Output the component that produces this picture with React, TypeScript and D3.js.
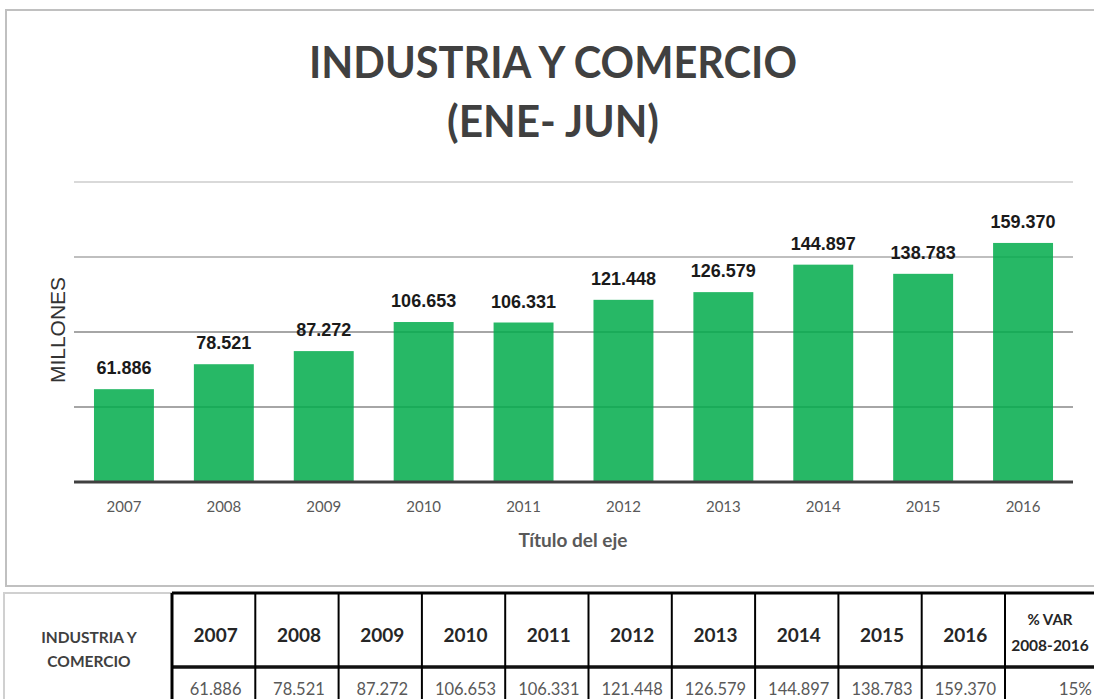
import React from 'react';
import * as d3 from 'd3';

const years = ['2007', '2008', '2009', '2010', '2011', '2012', '2013', '2014', '2015', '2016'];
const values = [61.886, 78.521, 87.272, 106.653, 106.331, 121.448, 126.579, 144.897, 138.783, 159.37];
const yTicks = [0, 50, 100, 150, 200];
const titleLines = ['INDUSTRIA Y COMERCIO', '(ENE- JUN)'];
const xAxisTitle = 'Título del eje';
const yAxisTitle = 'MILLONES';
const rowLabel = ['INDUSTRIA Y', 'COMERCIO'];
const varHeader = ['% VAR', '2008-2016'];
const varValue = '15%';

const W = 1094;
const H = 699;
const CAL = 'Lato, "Open Sans", sans-serif';
const ARIAL = '"Liberation Sans", Arial, sans-serif';

export default function App() {
  const x = d3.scaleBand<string>().domain(years).range([74, 1073]).paddingInner(0.4).paddingOuter(0.2);
  const y = d3.scaleLinear().domain([0, 200]).range([482, 182]);
  const fmt = d3.format('.3f');

  const tx = d3.scaleBand<string>().domain(years).range([172, 1005]);
  const tableTop = 593;
  const headerBottom = 667;
  const tableBottom = 710;

  const gridColor = (t: number) => (t === 200 ? '#D9D9D9' : t === 150 ? '#BFBFBF' : '#A6A6A6');

  return (
    <svg width={W} height={H} style={{ position: 'absolute', left: 0, top: 0, display: 'block', background: '#fff' }}>
      {/* chart frame */}
      <rect x={6} y={10} width={W} height={576} fill="#fff" stroke="#C0C0C0" strokeWidth={2} />

      {/* title */}
      <text x={553} y={78} textAnchor="middle" fontFamily={CAL} fontWeight={700} fontSize={43} fill="#404040"
        textLength={488} lengthAdjust="spacingAndGlyphs">{titleLines[0]}</text>
      <text x={553} y={137} textAnchor="middle" fontFamily={CAL} fontWeight={700} fontSize={43} fill="#404040"
        textLength={212} lengthAdjust="spacingAndGlyphs">{titleLines[1]}</text>

      {/* gridlines */}
      {yTicks.filter(t => t > 0).map(t => (
        <line key={t} x1={74} x2={1073} y1={y(t)} y2={y(t)} stroke={gridColor(t)} strokeWidth={2} />
      ))}

      {/* bars */}
      {years.map((yr, i) => (
        <rect key={yr} x={x(yr)} y={y(values[i])} width={x.bandwidth()} height={y(0) - y(values[i])}
          fill="rgb(1,171,75)" fillOpacity={0.85} />
      ))}

      {/* axis */}
      <line x1={74} x2={1073} y1={y(0)} y2={y(0)} stroke="#404040" strokeWidth={3} />

      {/* value labels */}
      {years.map((yr, i) => (
        <text key={yr} x={(x(yr) as number) + x.bandwidth() / 2} y={y(values[i]) - 15} textAnchor="middle"
          fontFamily={ARIAL} fontWeight={700} fontSize={18} fill="#1a1a1a">{fmt(values[i])}</text>
      ))}

      {/* x tick labels */}
      {years.map(yr => (
        <text key={yr} x={(x(yr) as number) + x.bandwidth() / 2} y={512} textAnchor="middle"
          fontFamily={CAL} fontSize={15} fill="#595959">{yr}</text>
      ))}

      {/* axis titles */}
      <text x={573} y={547} textAnchor="middle" fontFamily={CAL} fontWeight={700} fontSize={19} fill="#595959">{xAxisTitle}</text>
      <text transform="translate(65,330) rotate(-90)" textAnchor="middle" fontFamily={ARIAL} fontSize={21} fill="#333">{yAxisTitle}</text>

      {/* table area */}
      <line x1={3} x2={172} y1={593} y2={593} stroke="#D0D0D0" strokeWidth={2} />
      <line x1={4} x2={4} y1={593} y2={H} stroke="#D0D0D0" strokeWidth={2} />
      <text x={89} y={643} textAnchor="middle" fontFamily={CAL} fontWeight={700} fontSize={15.5} fill="#404040">{rowLabel[0]}</text>
      <text x={89} y={667} textAnchor="middle" fontFamily={CAL} fontWeight={700} fontSize={15.5} fill="#404040">{rowLabel[1]}</text>

      {/* table grid */}
      <line x1={172} x2={W} y1={tableTop} y2={tableTop} stroke="#000" strokeWidth={3} />
      <line x1={172} x2={W} y1={headerBottom} y2={headerBottom} stroke="#111" strokeWidth={3.5} />
      {[...years.map(yr => tx(yr) as number), 1005].map((xv, i) => (
        <line key={i} x1={xv} x2={xv} y1={tableTop} y2={tableBottom} stroke="#000" strokeWidth={i === 0 ? 3 : 2} />
      ))}

      {/* header years */}
      {years.map(yr => (
        <text key={yr} x={(tx(yr) as number) + tx.bandwidth() / 2 + 2} y={642} textAnchor="middle"
          fontFamily={CAL} fontWeight={700} fontSize={19} fill="#262626">{yr}</text>
      ))}
      <text x={1050} y={625} textAnchor="middle" fontFamily={CAL} fontWeight={700} fontSize={15} fill="#262626">{varHeader[0]}</text>
      <text x={1050} y={651} textAnchor="middle" fontFamily={CAL} fontWeight={700} fontSize={15.5} fill="#262626">{varHeader[1]}</text>

      {/* data row */}
      {years.map((yr, i) => (
        <text key={yr} x={(tx(yr) as number) + tx.bandwidth() / 2 + 2} y={695} textAnchor="middle"
          fontFamily={CAL} fontSize={16.5} fill="#595959">{fmt(values[i])}</text>
      ))}
      <text x={1092} y={695} textAnchor="end" fontFamily={CAL} fontSize={17} fill="#595959">{varValue}</text>
    </svg>
  );
}
